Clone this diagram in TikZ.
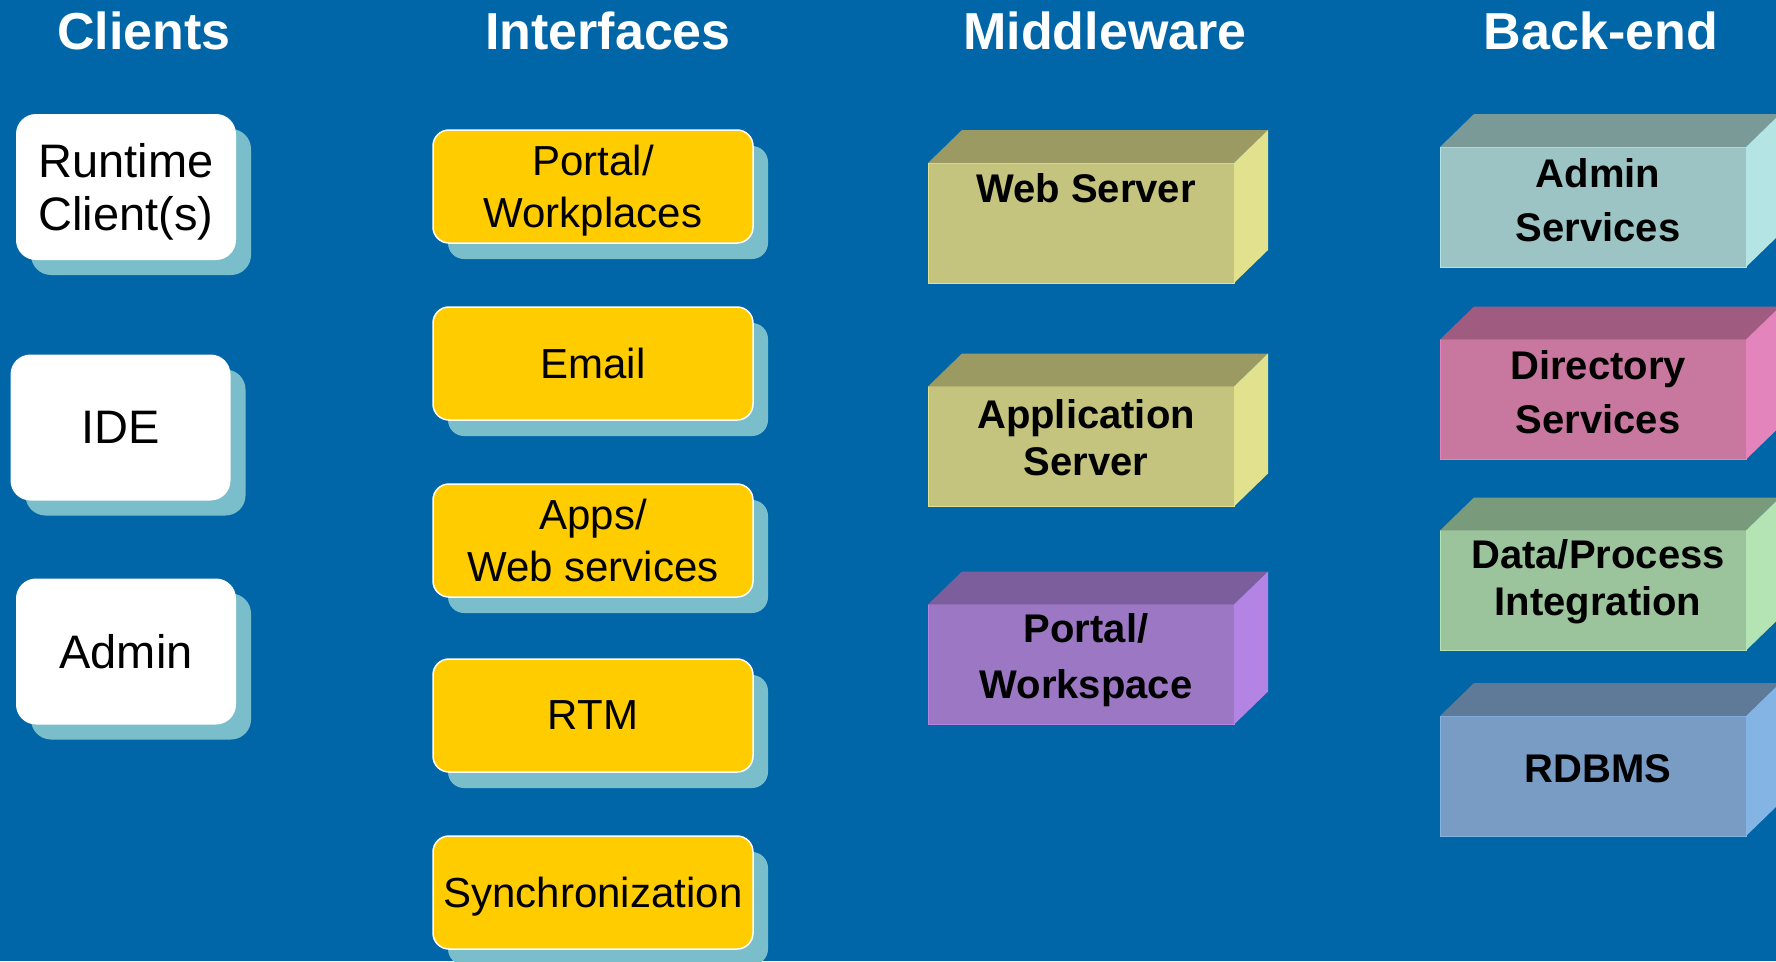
\documentclass[tikz,border=0pt]{standalone}
\usepackage{fontspec}
\setmainfont{Liberation Sans}
\usetikzlibrary{shadows}

\definecolor{bgblue}{RGB}{0,102,168}
\definecolor{shade}{RGB}{123,190,203}
\definecolor{ifyellow}{HTML}{FFCC00}
% front, top and side of the boxes
\definecolor{wsF}{HTML}{C4C47E}\definecolor{wsT}{HTML}{9A9A62}\definecolor{wsS}{HTML}{E2E28E}
\definecolor{pwF}{HTML}{9C78C4}\definecolor{pwT}{HTML}{7C5E9C}\definecolor{pwS}{HTML}{B484E4}
\definecolor{asF}{HTML}{9CC4C4}\definecolor{asT}{HTML}{7A9A98}\definecolor{asS}{HTML}{B4E4E4}
\definecolor{dsF}{HTML}{C8789E}\definecolor{dsT}{HTML}{A05C80}\definecolor{dsS}{HTML}{E484BC}
\definecolor{dpF}{HTML}{9CC49C}\definecolor{dpT}{HTML}{7A9A7C}\definecolor{dpS}{HTML}{B4E4B4}
\definecolor{dbF}{HTML}{789CC4}\definecolor{dbT}{HTML}{5E7A98}\definecolor{dbS}{HTML}{84B4E4}

\tikzset{
  header/.style={text=white, anchor=base, font=\fontsize{52}{60}\selectfont\bfseries},
  client/.style={fill=white, rounded corners=20pt, minimum width=220pt,
    minimum height=146pt, align=center, text depth=0pt,
    font=\fontsize{47}{53}\selectfont,
    drop shadow={shadow xshift=15pt, shadow yshift=-15pt, fill=shade, opacity=1}},
  iface/.style={fill=ifyellow, draw=white, line width=1.5pt, rounded corners=16pt,
    minimum width=320pt, minimum height=113pt, align=center, text depth=0pt,
    font=\fontsize{42}{52}\selectfont,
    drop shadow={shadow xshift=15pt, shadow yshift=-16pt, fill=shade, opacity=1}},
  front/.style={minimum width=306pt, minimum height=120pt, inner sep=0pt,
    outer sep=0pt, line width=1pt},
  blocktext/.style={align=center, font=\fontsize{40}{54}\selectfont\bfseries}
}

% name, x, y, colour, text shift, text
\newcommand{\cube}[6]{%
  \node[front, fill=#4F, draw=#4S] (#1) at (#2,#3) {};
  \fill[#4T] (#1.north west) -- ([shift={(34,-33)}]#1.north west)
    -- ([shift={(34,-33)}]#1.north east) -- (#1.north east) -- cycle;
  \fill[#4S] (#1.north east) -- ([shift={(34,-33)}]#1.north east)
    -- ([shift={(34,-33)}]#1.south east) -- (#1.south east) -- cycle;
  \node[blocktext] (#1-txt) at ([xshift=5pt, yshift=#5]#1.center) {#6};
}

\begin{document}
\begin{tikzpicture}[x=1pt,y=-1pt]
  \useasboundingbox (0,0) rectangle (1776,961);
  \clip (0,0) rectangle (1776,961);
  \fill[bgblue] (0,0) rectangle (1776,961);

  % column titles
  \node[header] (clients) at (144,49) {Clients};
  \node[header] (ifaces) at (608,49) {Interfaces};
  \node[header] (middle) at (1105,49) {Middleware};
  \node[header] (backend) at (1601,49) {Back-end};

  % clients
  \node[client] (runtime) at (126,187) {Runtime\\Client(s)};
  \node[client] (ide) at (120.5,427.5) {IDE};
  \node[client] (admin) at (126,651.5) {Admin};

  % interfaces
  \node[iface] (portal) at (593,186.5) {Portal/\\Workplaces};
  \node[iface] (email) at (593,363.5) {Email};
  \node[iface] (apps) at (593,540.5) {Apps/\\Web services};
  \node[iface] (rtm) at (593,715.5) {RTM};
  \node[iface] (sync) at (593,892.5) {Synchronization};

  % middleware
  \cube{websrv}{1081}{223}{ws}{35pt}{Web Server}
  \cube{appsrv}{1081}{446.5}{ws}{9pt}{Application\\[-7pt]Server}
  \cube{workspace}{1081}{664.5}{pw}{4pt}{Portal/\\[2pt]Workspace}

  % back-end
  \cube{adminsrv}{1593}{207}{as}{7pt}{Admin\\Services}
  \cube{dirsrv}{1593}{399.5}{ds}{7pt}{Directory\\Services}
  \cube{dataproc}{1593}{590.5}{dp}{9pt}{Data/Process\\[-7pt]Integration}
  \cube{rdbms}{1593}{776}{db}{7pt}{RDBMS}
\end{tikzpicture}
\end{document}
